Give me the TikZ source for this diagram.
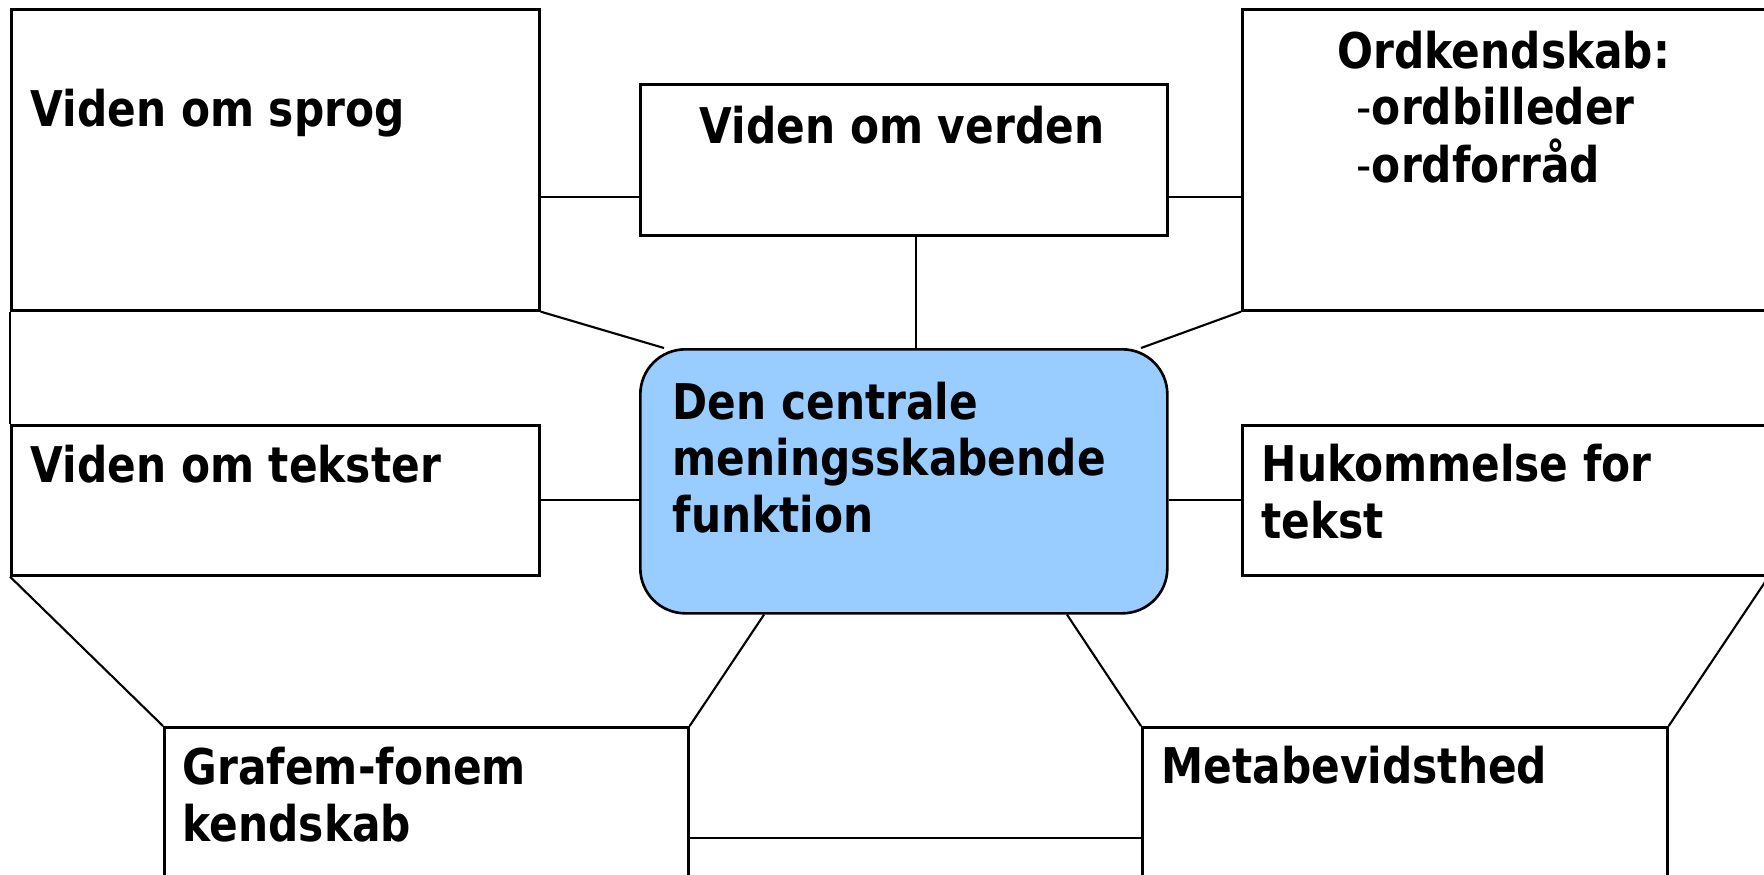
\documentclass[tikz,border=0pt]{standalone}
\usepackage{fontspec}
\setmainfont{DejaVu Sans}[FakeStretch=0.86]
\usepackage{tikz}
\usetikzlibrary{positioning}

\definecolor{midblue}{HTML}{99CCFF}

\tikzset{
	box/.style={rectangle, draw=black, line width=0.75pt, fill=white, anchor=north west, inner sep=0pt},
	link/.style={line width=0.6pt, color=black},
	txt/.style={anchor=base west, inner sep=0pt, align=left, font=\bfseries\fontsize{14}{16}\selectfont}
}

\begin{document}
\begin{tikzpicture}
		\useasboundingbox (0,0) rectangle (17.64,-8.74);
		\clip (0,0) rectangle (17.64,-8.74);

		% boxes
		\node[box, minimum width=5.28cm, minimum height=3.01cm](sprog) at (0.10,-0.08){};
		\node[box, minimum width=5.27cm, minimum height=1.51cm](verden) at (6.39,-0.83){};
		\node[box, minimum width=5.50cm, minimum height=3.01cm](ordk) at (12.41,-0.08){};
		\node[box, minimum width=5.28cm, minimum height=1.50cm](tekster) at (0.10,-4.24){};
		\node[box, rounded corners=0.45cm, fill=midblue, minimum width=5.27cm, minimum height=2.64cm](mid) at (6.39,-3.48){};
		\node[box, minimum width=5.25cm, minimum height=1.50cm](hukom) at (12.41,-4.24){};
		\node[box, minimum width=5.24cm, minimum height=2.00cm](grafem) at (1.63,-7.26){};
		\node[box, minimum width=5.25cm, minimum height=2.00cm](meta) at (11.41,-7.26){};

		% texts (multi-line ones sit on their last baseline)
		\node[txt](sprogText) at (0.30,-1.26){Viden om sprog};
		\node[txt, anchor=base](verdenText) at (9.02,-1.43){Viden om verden};
		\node[txt](ordkText) at (13.37,-0.68){Ordkendskab:};
		\node[txt](ordbText) at (13.56,-1.24){{\mdseries-}ordbilleder};
		\node[txt](ordfText) at (13.56,-1.82){{\mdseries-}ordforråd};
		\node[txt](teksterText) at (0.30,-4.82){Viden om tekster};
		\node[txt](midText) at (6.72,-5.32){Den centrale\\meningsskabende\\funktion};
		\node[txt](hukomText) at (12.61,-5.38){Hukommelse for\\tekst};
		\node[txt](grafemText) at (1.82,-8.41){Grafem-fonem\\kendskab};
		\node[txt](metaText) at (11.61,-7.83){Metabevidsthed};

		% connectors
		\draw[link] (sprog.east |- 0,-1.97) -- (verden.west |- 0,-1.97);
		\draw[link] (verden.east |- 0,-1.97) -- (ordk.west |- 0,-1.97);
		\draw[link] (verden.south -| 9.16,0) -- (mid.north -| 9.16,0);
		\draw[link] (sprog.south east) -- (6.64,0 |- mid.north);
		\draw[link] (ordk.south west) -- (11.41,0 |- mid.north);
		\draw[link] (tekster.east) -- (mid.west |- tekster.east);
		\draw[link] (mid.east |- hukom.west) -- (hukom.west);
		\draw[link] (sprog.south west) -- (tekster.north west);
		\draw[link] (tekster.south west) -- (grafem.north west);
		\draw[link] (7.64,0 |- mid.south) -- (grafem.north east);
		\draw[link] (10.67,0 |- mid.south) -- (meta.north west);
		\draw[link] (hukom.south east) -- (meta.north east);
		\draw[link] (grafem.east |- 0,-8.38) -- (meta.west |- 0,-8.38);
	\end{tikzpicture}
\end{document}
